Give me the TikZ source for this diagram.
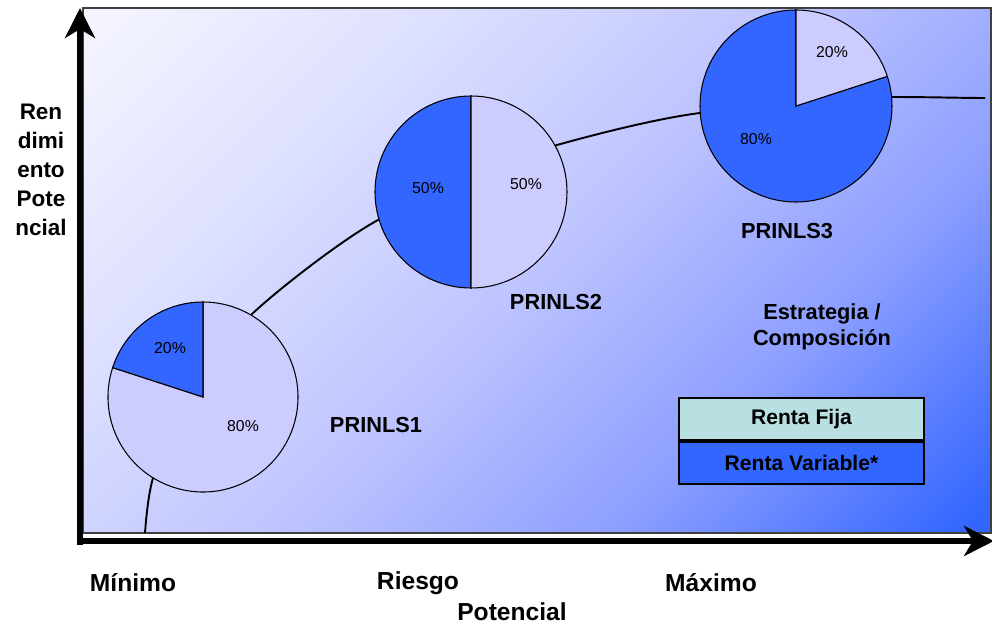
\documentclass[tikz,border=0pt]{standalone}
\usepackage{fontspec}
\setmainfont{Liberation Sans}
\usetikzlibrary{arrows.meta, positioning}
\definecolor{rkBlue}{HTML}{3366FF}
\definecolor{rkLav}{HTML}{CCCCFF}
\definecolor{rkAqua}{HTML}{B8E0E2}
\definecolor{rkPale}{HTML}{F4F4FF}
\definecolor{rkMidA}{HTML}{DCDFFF}
\definecolor{rkMidB}{HTML}{BEC4FF}
\definecolor{rkMidC}{HTML}{8C9EFF}
\pgfdeclareverticalshading{bgfade}{100bp}{color(0bp)=(rkBlue); color(16bp)=(rkBlue);
  color(33bp)=(rkMidC); color(50bp)=(rkMidB); color(67bp)=(rkMidA);
  color(84bp)=(rkPale); color(100bp)=(rkPale)}
\tikzset{
  axisline/.style = {-{Stealth[length=17pt, width=17pt, inset=5pt]}, line width=3.4pt, black},
  trend/.style    = {line width=1.1pt, black},
  slice/.style    = {draw=black, line width=0.6pt},
  pct/.style      = {font=\fontsize{9}{10}\selectfont},
  lbl/.style      = {font=\fontsize{12.4}{14.7}\selectfont\bfseries, align=center},
  axlbl/.style    = {font=\fontsize{14}{16}\selectfont\bfseries},
  legbox/.style   = {draw=black, line width=1.1pt, minimum width=4.9cm,
                     minimum height=0.84cm, inner sep=0pt,
                     font=\fontsize{12}{14}\selectfont\bfseries},
}

\begin{document}
\begin{tikzpicture}[x=0.02cm, y=0.02cm]
  \useasboundingbox (0,0) rectangle (992,626);

  \shade[shading=bgfade, shading angle=45] (83,93) rectangle (991,618);
  \draw[line width=0.6pt, black!75] (83,93) rectangle (991,618);

  \coordinate (pieA) at (203,229);
  \coordinate (pieB) at (471,434);
  \coordinate (pieC) at (796,520);

  \draw[trend] (145,93) .. controls (147,120) and (150,138) .. (153,148)
    .. controls (175,220) and (215,280) .. (252,312)
    .. controls (282,340) and (345,388) .. (378,406)
    .. controls (440,440) and (500,465) .. (557,481)
    .. controls (600,493) and (660,508) .. (700,513)
    .. controls (760,522) and (830,530) .. (892,529)
    .. controls (930,529) and (960,528) .. (985,528);

  \draw[slice, fill=rkLav]  (pieA) -- ++(162:95) arc[start angle=162, end angle=450, radius=95] -- cycle;
  \draw[slice, fill=rkBlue] (pieA) -- ++(90:95) arc[start angle=90, end angle=162, radius=95] -- cycle;

  \draw[slice, fill=rkBlue] (pieB) -- ++(90:96) arc[start angle=90, end angle=270, radius=96] -- cycle;
  \draw[slice, fill=rkLav]  (pieB) -- ++(270:96) arc[start angle=270, end angle=450, radius=96] -- cycle;

  \draw[slice, fill=rkBlue] (pieC) -- ++(90:96) arc[start angle=90, end angle=378, radius=96] -- cycle;
  \draw[slice, fill=rkLav]  (pieC) -- ++(18:96) arc[start angle=18, end angle=90, radius=96] -- cycle;

  \node[pct] (pctA1) at (170,278) {20\%};
  \node[pct] (pctA2) at (243,200) {80\%};
  \node[pct] (pctB1) at (428,438) {50\%};
  \node[pct] (pctB2) at (526,442) {50\%};
  \node[pct] (pctC1) at (832,574) {20\%};
  \node[pct] (pctC2) at (756,487) {80\%};

  \node[lbl] (prinA) at (376,201) {PRINLS1};
  \node[lbl] (prinB) at (556,324) {PRINLS2};
  \node[lbl] (prinC) at (787,395) {PRINLS3};
  \node[lbl] (estrat) at (822,299) {Estrategia /\\Composición};

  \node[legbox, fill=rkAqua] (legFija) at (801.5,207) {Renta Fija};
  \node[legbox, fill=rkBlue, below=0pt of legFija] (legVar) {Renta Variable*};

  \draw[axisline] (80,81) -- (80,618);
  \draw[axisline] (77,85) -- (994,85);

  \node[lbl, font=\fontsize{12.8}{16.4}\selectfont\bfseries] (ylab) at (41,456)
    {Ren\\dimi\\ento\\Pote\\ncial};
  \node[axlbl] (xmin) at (133,43) {Mínimo};
  \node[axlbl] (xrisk) at (418,43) {Riesgo};
  \node[axlbl] (xpot) at (512,14) {Potencial};
  \node[axlbl] (xmax) at (711,43) {Máximo};
\end{tikzpicture}
\end{document}
